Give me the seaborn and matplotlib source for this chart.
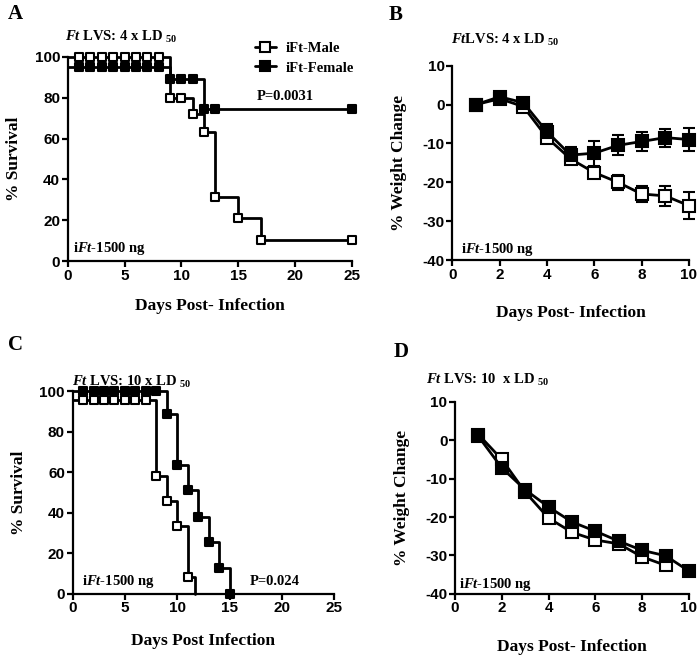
import matplotlib
matplotlib.use("Agg")
import matplotlib.pyplot as plt
import seaborn as sns
from matplotlib.lines import Line2D

# Panel A: survival, Ft LVS 4 x LD50 (Kaplan-Meier steps + censor marks)
a_male_step_day = [0, 9, 11, 12, 13, 15, 17, 25]
a_male_step_surv = [100, 80, 72, 63, 31.5, 21, 10.5, 10.5]
a_male_mark_day = [1, 2, 3, 4, 5, 6, 7, 8, 9, 10, 11, 12, 13, 15, 17, 25]
a_male_mark_surv = [100, 100, 100, 100, 100, 100, 100, 100, 80, 80, 72, 63, 31.5, 21, 10.5, 10.5]
a_fem_step_day = [0, 9, 12, 25]
a_fem_step_surv = [95, 89, 74.5, 74.5]
a_fem_mark_day = [1, 2, 3, 4, 5, 6, 7, 8, 9, 10, 11, 12, 13, 25]
a_fem_mark_surv = [95, 95, 95, 95, 95, 95, 95, 95, 89, 89, 89, 74.5, 74.5, 74.5]

# Panel B: weight change, 4 x LD50 (mean +/- sem)
b_days = [1, 2, 3, 4, 5, 6, 7, 8, 9, 10]
b_male = [0, 1.5, -0.5, -8.5, -14, -17.5, -20, -23, -23.5, -26]
b_male_err = [0, 0.5, 0.5, 1.5, 1.2, 1.0, 2.0, 2.0, 2.6, 3.4]
b_fem = [0, 2, 0.5, -7, -13, -12.5, -10.5, -9.5, -8.5, -9]
b_fem_err = [0, 0.5, 0.5, 2.0, 2.0, 3.2, 2.6, 2.4, 2.3, 2.9]

# Panel C: survival, 10 x LD50
c_male_step_day = [0, 8, 9, 10, 11, 11.7]
c_male_step_surv = [95.5, 58, 46, 33.5, 8.3, 0]
c_male_mark_day = [1, 2, 3, 4, 5, 6, 7, 8, 9, 10, 11]
c_male_mark_surv = [95.5, 95.5, 95.5, 95.5, 95.5, 95.5, 95.5, 58, 46, 33.5, 8.3]
c_fem_step_day = [0, 9, 10, 11, 12, 13, 14, 15]
c_fem_step_surv = [100, 89, 63.5, 51, 38, 25.5, 12.6, 0]
c_fem_mark_day = [1, 2, 3, 4, 5, 6, 7, 8, 9, 10, 11, 12, 13, 14, 15]
c_fem_mark_surv = [100, 100, 100, 100, 100, 100, 100, 100, 89, 63.5, 51, 38, 25.5, 12.6, 0]

# Panel D: weight change, 10 x LD50
d_male_days = [1, 2, 3, 4, 5, 6, 7, 8, 9]
d_male = [1.5, -5, -13.5, -20.3, -24, -26, -27, -30.4, -32.6]
d_fem_days = [1, 2, 3, 4, 5, 6, 7, 8, 9, 10]
d_fem = [1, -7.2, -12.9, -17.4, -21.3, -23.7, -26.3, -28.7, -30.1, -34.1]

surv_ticks = [0, 20, 40, 60, 80, 100]
surv_days = [0, 5, 10, 15, 20, 25]
wt_ticks = [-40, -30, -20, -10, 0, 10]
wt_days = [0, 2, 4, 6, 8, 10]

sns.set_style("ticks")
plt.rcParams["font.family"] = ["Liberation Serif", "DejaVu Serif"]
plt.rcParams["font.weight"] = "bold"
plt.rcParams["axes.labelweight"] = "bold"
plt.rcParams["text.color"] = "black"
plt.rcParams["axes.labelcolor"] = "black"
plt.rcParams["mathtext.fontset"] = "custom"
plt.rcParams["mathtext.rm"] = "Liberation Serif:bold"
plt.rcParams["mathtext.bf"] = "Liberation Serif:bold"
plt.rcParams["mathtext.it"] = "Liberation Serif:italic:bold"
plt.rcParams["axes.unicode_minus"] = False

W, H = 698, 655
fig = plt.figure(figsize=(W / 100, H / 100), dpi=100)
axA = fig.add_axes([0.097, 0.6015, 0.407, 0.3115])
axB = fig.add_axes([0.648, 0.603, 0.339, 0.2967])
axC = fig.add_axes([0.104, 0.0936, 0.375, 0.309])
axD = fig.add_axes([0.652, 0.0936, 0.335, 0.2927])

LW = 2
TICKFONT = dict(fontfamily="Liberation Sans", fontweight="bold", fontsize=11)


def style(ax, xt, yt):
    sns.despine(ax=ax)
    for s in ("left", "bottom"):
        ax.spines[s].set_linewidth(1.6)
        ax.spines[s].set_color("black")
    ax.set_xticks(xt, [str(v) for v in xt], **TICKFONT)
    ax.set_yticks(yt, [str(v) for v in yt], **TICKFONT)
    ax.tick_params(direction="out", length=4, width=1.6, pad=1.5, colors="black")


def km(ax, sd, ss, md, ms, filled, size):
    sns.lineplot(x=sd, y=ss, drawstyle="steps-post", color="black", lw=LW,
                 ax=ax, clip_on=False)
    sns.scatterplot(x=md, y=ms, marker="s", s=size, ax=ax, zorder=4,
                    color="black" if filled else "white", edgecolor="black",
                    linewidth=1.5, clip_on=False)


def weight(ax, days, vals, filled, err=None):
    if err is not None:
        ax.errorbar(days, vals, yerr=err, fmt="none", ecolor="black",
                    elinewidth=1.5, capsize=4, capthick=1.5, zorder=2, clip_on=False)
    sns.lineplot(x=days, y=vals, color="black", lw=LW, marker="s", markersize=8.5,
                 markerfacecolor="black" if filled else "white",
                 markeredgecolor="black", markeredgewidth=1.5, ax=ax,
                 clip_on=False, zorder=3)


# ---- A
km(axA, a_male_step_day, a_male_step_surv, a_male_mark_day, a_male_mark_surv, False, 36)
km(axA, a_fem_step_day, a_fem_step_surv, a_fem_mark_day, a_fem_mark_surv, True, 36)
axA.set(xlim=(0, 25), ylim=(0, 100))
axA.set_xlabel("Days Post- Infection", fontsize=12.5, labelpad=11)
axA.set_ylabel("% Survival", fontsize=12.5, labelpad=9)
axA.text(16.6, 80.4, "P=0.0031", fontsize=10.5, va="center")
axA.text(0.5, 6.2, r"i$\mathit{Ft}$-1500 ng", fontsize=10.5, va="center")
axA.text(-0.24, 109.8, r"$\mathit{Ft}$ LVS: 4 x LD $_{50}$", fontsize=10.5, va="center")
hand = [Line2D([], [], color="black", lw=LW, marker="s", ms=6.5, mfc="white", mec="black", mew=1.5),
        Line2D([], [], color="black", lw=LW, marker="s", ms=6.5, mfc="black", mec="black", mew=1.5)]
axA.legend(hand, ["iFt-Male", "iFt-Female"], frameon=False, loc="upper left",
           bbox_to_anchor=(0.614, 1.14), handlelength=1.4, handletextpad=0.7,
           labelspacing=0.45, fontsize=10.5)
style(axA, surv_days, surv_ticks)

# ---- B
weight(axB, b_days, b_male, False, b_male_err)
weight(axB, b_days, b_fem, True, b_fem_err)
axB.set(xlim=(0, 10), ylim=(-40, 10))
axB.set_xlabel("Days Post- Infection", fontsize=12.5, labelpad=17)
axB.set_ylabel("% Weight Change", fontsize=12.5, labelpad=11)
axB.text(0.37, -37.4, r"i$\mathit{Ft}$-1500 ng", fontsize=10.5, va="center")
axB.text(-0.05, 16.6, r"$\mathit{Ft}$LVS: 4 x LD $_{50}$", fontsize=10.5, va="center")
style(axB, wt_days, wt_ticks)

# ---- C
km(axC, c_male_step_day, c_male_step_surv, c_male_mark_day, c_male_mark_surv, False, 36)
km(axC, c_fem_step_day, c_fem_step_surv, c_fem_mark_day, c_fem_mark_surv, True, 36)
axC.set(xlim=(0, 25), ylim=(0, 100))
axC.set_xlabel("Days Post Infection", fontsize=12.5, labelpad=13)
axC.set_ylabel("% Survival", fontsize=12.5, labelpad=9)
axC.text(16.9, 5.8, "P=0.024", fontsize=10.5, va="center")
axC.text(0.9, 5.8, r"i$\mathit{Ft}$-1500 ng", fontsize=10.5, va="center")
axC.text(-0.07, 104.6, r"$\mathit{Ft}$ LVS: 10 x LD $_{50}$", fontsize=10.5, va="center")
style(axC, surv_days, surv_ticks)

# ---- D
weight(axD, d_male_days, d_male, False)
weight(axD, d_fem_days, d_fem, True)
axD.set(xlim=(0, 10), ylim=(-40, 10))
axD.set_xlabel("Days Post- Infection", fontsize=12.5, labelpad=17)
axD.set_ylabel("% Weight Change", fontsize=12.5, labelpad=11)
axD.text(0.17, -37.5, r"i$\mathit{Ft}$-1500 ng", fontsize=10.5, va="center")
axD.text(-1.24, 15.7, r"$\mathit{Ft}$ LVS: 10  x LD $_{50}$", fontsize=10.5, va="center")
style(axD, wt_days, wt_ticks)

# panel letters
for lab, px, py in [("A", 8, 14), ("B", 389, 15), ("C", 8, 345), ("D", 394, 352)]:
    fig.text(px / W, 1 - py / H, lab, fontsize=15, fontweight="bold", va="center")

fig.savefig("out.png", dpi=100)
